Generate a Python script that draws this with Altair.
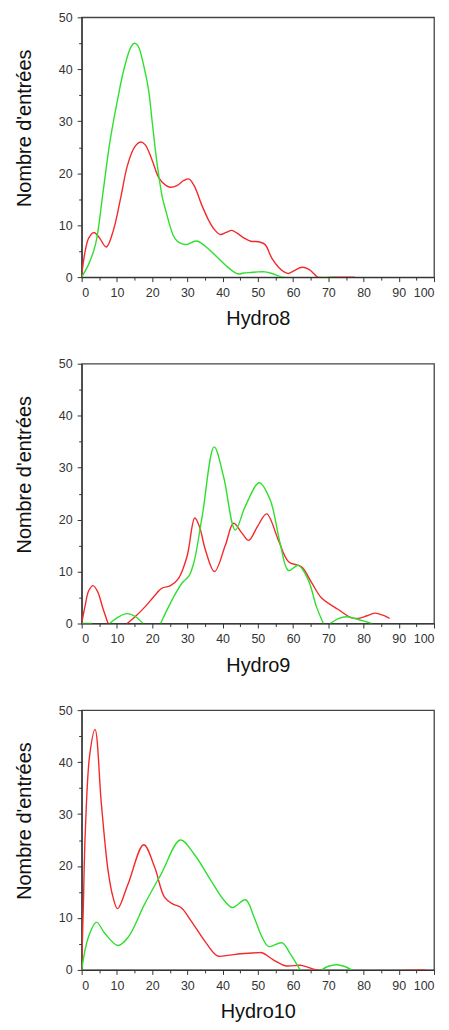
import altair as alt
import pandas as pd

# ---------------- data ----------------
X_TICKS = list(range(0, 101, 5))
Y_TICKS = list(range(0, 51, 5))
PANEL_TITLES = ["Hydro8", "Hydro9", "Hydro10"]
SERIES_COLORS = {"rouge": "#f42a2a", "vert": "#2ee02e"}

# Hydro8
h8_red_x = [0, 1, 2, 3.5, 5, 7, 9, 11, 13, 15, 16.7, 18, 20, 22, 24, 25.2, 27, 29, 30.4, 32, 34, 36, 37.5,
            39.3, 41, 42.6, 44, 46.4, 48, 50.2, 52, 54, 56, 57.7, 58.7, 60.5, 62.5, 64.5, 66, 67, 72, 77.5]
h8_red_y = [0.4, 5, 7.5, 8.6, 7.6, 5.8, 9, 15, 21.5, 25, 26, 25.5, 22.5, 19, 17.6, 17.3, 17.6, 18.6, 18.9,
            17.5, 14, 11, 9.3, 8.2, 8.6, 9, 8.5, 7.4, 6.9, 6.8, 6.3, 3.6, 1.8, 0.9, 0.7, 1.3, 1.9, 1.5, 0.6,
            0, 0, 0]
h8_green_x = [0, 2, 4, 6, 8, 10, 12, 14, 15, 16, 18, 19, 20, 21, 22, 23, 24, 25, 26, 27, 28.5, 30, 32, 33,
              35, 37, 39, 41, 43, 44.5, 46, 48, 50, 52, 54, 56, 57, 72]
h8_green_y = [0, 2.5, 6.5, 16, 26, 33.5, 40, 44.3, 45, 44.5, 39.5, 36, 30, 24, 19, 15, 12.5, 10, 8, 7,
              6.4, 6.3, 6.9, 6.9, 6, 4.8, 3.5, 2.2, 1.1, 0.6, 0.8, 0.9, 1, 1, 0.7, 0.2, 0, 0]

# Hydro9 (several separate pieces)
h9_red_x1 = [0, 1, 2, 3.2, 4.5, 6, 7.5]
h9_red_y1 = [0, 3.5, 6.3, 7.3, 6.2, 3, 0]
h9_red_x2 = [12.9, 15, 18.1, 20.5, 22.8, 25.2, 27.5, 29.9, 32.1, 33.5, 35.1, 37.7, 40.8, 43.1, 45.5, 47.4,
             50, 52.5, 55.8, 58.7, 62.4, 65.3, 68.1, 72.8, 76.6, 78.5, 81, 83.2, 85.5, 87.4]
h9_red_y2 = [0, 1.2, 3.3, 5.2, 6.8, 7.3, 8.7, 12.9, 20.3, 18.5, 14.2, 10, 15.1, 19.3, 17.4, 16,
             18.8, 21.1, 16.1, 11.9, 10.9, 7.8, 4.9, 2.7, 1.1, 1.0, 1.5, 2.0, 1.6, 1.0]
h9_green_x1 = [0, 3]
h9_green_y1 = [0, 0]
h9_green_x2 = [7.9, 10.5, 12.9, 15.3, 17.4]
h9_green_y2 = [0, 1.3, 1.9, 1.3, 0]
h9_green_x3 = [22.4, 25.7, 28.5, 30.4, 31.8, 34.2, 37.6, 40.3, 43.6, 46.4, 50.4, 53.5, 56.3, 58.7, 61.5,
               64.3, 66.6, 68.6]
h9_green_y3 = [0, 4.6, 7.8, 9.1, 11.6, 20.6, 34, 28.2, 18, 22.5, 27.1, 23.8, 15.5, 10.2, 11.2, 8.4, 3.3, 0]
h9_green_x4 = [70.5, 73, 75.2, 79.4, 82.3]
h9_green_y4 = [0, 1.0, 1.3, 0.6, 0]

# Hydro10
h10_red_x = [0, 0.3, 0.5, 1, 2.3, 3.8, 5.6, 7.5, 8.9, 10.2, 13.2, 17.6, 20.7, 23.5, 25.8, 28.2, 31, 34.8,
             38.5, 41.4, 45.1, 49.8, 51.2, 54.5, 57.8, 62, 63.9, 66.7, 97.5]
h10_red_y = [0, 8, 13, 26, 41.5, 46.3, 31.9, 19.1, 14, 11.8, 16.6, 24.1, 19.8, 14, 12.7, 12, 9.5, 5.7,
             2.7, 2.8, 3.1, 3.3, 3.3, 1.9, 0.8, 0.9, 0.6, 0, 0]
h10_green_x1 = [0, 1.9, 4.2, 6.6, 10.3, 13.2, 17.9, 22.6, 28, 31.9, 36.7, 40.4, 42.8, 46.5, 48.9, 51.2,
                53.1, 56.9, 59.2, 62]
h10_green_y1 = [0, 6.3, 9.2, 7, 4.7, 6.3, 12.7, 18.5, 25, 22.3, 17.2, 13.4, 12, 13.5, 10.2, 6.3, 4.5,
                5.2, 3.1, 0]
h10_green_x2 = [68.1, 70, 72.4, 74.5, 76.6]
h10_green_y2 = [0, 0.7, 1.0, 0.7, 0]


def build(pieces):
    rows = []
    for serie, idx, xs, ys in pieces:
        for x, y in zip(xs, ys):
            rows.append({"serie": serie, "seg": f"{serie}{idx}", "x": x, "y": y})
    return pd.DataFrame(rows)


panel_data = [
    build([("rouge", 1, h8_red_x, h8_red_y), ("vert", 1, h8_green_x, h8_green_y)]),
    build([("rouge", 1, h9_red_x1, h9_red_y1), ("rouge", 2, h9_red_x2, h9_red_y2),
           ("vert", 1, h9_green_x1, h9_green_y1), ("vert", 2, h9_green_x2, h9_green_y2),
           ("vert", 3, h9_green_x3, h9_green_y3), ("vert", 4, h9_green_x4, h9_green_y4)]),
    build([("rouge", 1, h10_red_x, h10_red_y),
           ("vert", 1, h10_green_x1, h10_green_y1), ("vert", 2, h10_green_x2, h10_green_y2)]),
]

FONT = "Liberation Sans"
TICK_SIZE = {"condition": {"test": "datum.value % 10 === 0", "value": 4.5}, "value": 3}
LABEL_EXPR = "datum.value % 10 === 0 ? datum.label : ''"


def panel(df, title):
    x = alt.X("x:Q", scale=alt.Scale(domain=[0, 100], nice=False),
              axis=alt.Axis(values=X_TICKS, labelExpr=LABEL_EXPR, title=title,
                            titleX=177, titleY=48, titleAlign="center", titleBaseline="alphabetic",
                            tickSize=TICK_SIZE))
    y = alt.Y("y:Q", scale=alt.Scale(domain=[0, 50], nice=False),
              axis=alt.Axis(values=Y_TICKS, labelExpr=LABEL_EXPR, title="Nombre d'entrées",
                            titleX=-51, titleY=111, titleAngle=270, titleAlign="center",
                            titleBaseline="alphabetic", tickSize=TICK_SIZE))
    layers = []
    for serie in ["rouge", "vert"]:
        layers.append(
            alt.Chart(df[df.serie == serie])
            .mark_line(interpolate="catmull-rom", strokeWidth=1.4, clip=True,
                       color=SERIES_COLORS[serie])
            .encode(x=x, y=y, detail="seg:N", order="x:Q")
        )
    return alt.layer(*layers).properties(width=354, height=261)


chart = (
    alt.vconcat(*[panel(d, t) for d, t in zip(panel_data, PANEL_TITLES)], spacing=27)
    .properties(padding={"left": 6, "top": 0, "right": 5, "bottom": 5})
    .configure_view(stroke="#444", strokeWidth=1.3)
    .configure_axis(
        grid=False, domainColor="#333", domainWidth=1.2, tickColor="#333", tickWidth=1,
        labelFont=FONT, labelFontSize=12.5, labelColor="#333", labelPadding=5,
        titleFont=FONT, titleFontSize=20, titleFontWeight="normal", titleColor="#111",
    )
)

chart.save("out.html", embed_options={"renderer": "svg", "actions": False})
